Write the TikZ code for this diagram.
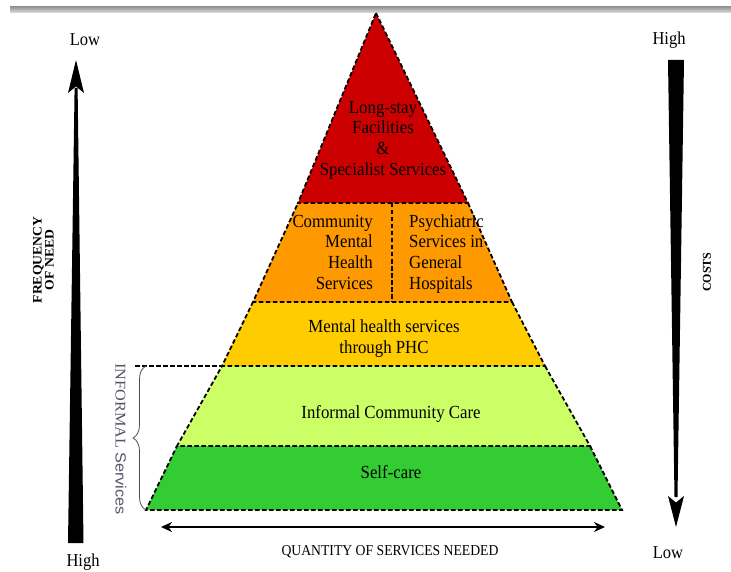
\documentclass[tikz,border=0pt]{standalone}
\usepackage{fontspec}
\setmainfont{Liberation Serif}
\newfontfamily\sansfam{Liberation Sans}
\usepackage{graphicx}
\usetikzlibrary{arrows.meta,decorations.pathreplacing}

\definecolor{tierred}{HTML}{CC0000}
\definecolor{tierorange}{HTML}{FF9900}
\definecolor{tieryellow}{HTML}{FFCC00}
\definecolor{tierlime}{HTML}{CCFF66}
\definecolor{tiergreen}{HTML}{33CC33}
\definecolor{notegrey}{RGB}{82,86,100}

% slightly tall lettering, and lettering stretched along its own length
\newcommand{\tall}[1]{\scalebox{1}[1.1]{#1}}
\newcommand{\stretchx}[2]{\scalebox{#1}[1]{#2}}

\begin{document}
\begin{tikzpicture}[x=1pt,y=-1pt,
  tierline/.style={line width=1.8pt, dash pattern=on 4.5pt off 2.5pt, line cap=butt},
  tiertext/.style={inner sep=0pt, font=\fontsize{16.8}{18.8}\selectfont},
  endlabel/.style={inner sep=0pt, font=\fontsize{16.5}{18}\selectfont},
  axislabel/.style={inner sep=0pt, font=\bfseries\fontsize{13}{11}\selectfont},
  wedge/.style={fill=black, draw=none}
]
\useasboundingbox (0,0) rectangle (731,572);

% thin grey rule along the top
\shade[top color=gray!85, bottom color=gray!30] (10,6.5) rectangle (731,12.5);

% pyramid corner points
\coordinate (apex) at (376,13);
\coordinate (r1) at (298,203);  \coordinate (r2) at (468,203);
\coordinate (o1) at (253,302);  \coordinate (o2) at (512,302);
\coordinate (y1) at (222,366);  \coordinate (y2) at (545,366);
\coordinate (g1) at (177,446);  \coordinate (g2) at (590,446);
\coordinate (b1) at (146,510);  \coordinate (b2) at (622,510);
\coordinate (dtop) at (392,203); \coordinate (dbot) at (392,302);
\coordinate (inf) at (135,366);

% tier fills
\fill[tierred]    (apex) -- (r2) -- (r1) -- cycle;
\fill[tierorange] (r1) -- (r2) -- (o2) -- (o1) -- cycle;
\fill[tieryellow] (o1) -- (o2) -- (y2) -- (y1) -- cycle;
\fill[tierlime]   (y1) -- (y2) -- (g2) -- (g1) -- cycle;
\fill[tiergreen]  (g1) -- (g2) -- (b2) -- (b1) -- cycle;

% dashed tier outlines
\draw[tierline] (apex) -- (r2) -- (r1) -- cycle;
\draw[tierline] (r2) -- (o2) -- (o1) -- (r1);
\draw[tierline] (o2) -- (y2) -- (y1) -- (o1);
\draw[tierline] (y2) -- (g2) -- (g1) -- (y1);
\draw[tierline] (g2) -- (b2) -- (b1) -- (g1);
\draw[tierline] (dtop) -- (dbot);
\draw[tierline] (inf) -- (y1);

% tier texts
\node[tiertext] (tLong) at (383,140) {\tall{\begin{tabular}{@{}c@{}}Long-stay\\Facilities\\\&\\Specialist Services\end{tabular}}};
\node[tiertext, anchor=east] (tComm) at (373,254) {\tall{\begin{tabular}{@{}r@{}}Community\\Mental\\Health\\Services\end{tabular}}};
\node[tiertext, anchor=west] (tPsy) at (409,254) {\tall{\begin{tabular}{@{}l@{}}Psychiatric\\Services in\\General\\Hospitals\end{tabular}}};
\node[tiertext] (tPhc) at (384,339) {\tall{\begin{tabular}{@{}c@{}}Mental health services\\through PHC\end{tabular}}};
\node[tiertext] (tInf) at (391,414) {\tall{Informal Community Care}};
\node[tiertext] (tSelf) at (391,472) {\tall{Self-care}};

% brace for the informal tiers
\coordinate (bb) at (146,510);
\coordinate (bt) at (146,366);
\draw[decorate, decoration={brace, amplitude=13pt, aspect=0.5},
      draw=gray!60!black, line width=0.8pt] (bb) -- (bt);
\node[inner sep=0pt, rotate=-90, text=notegrey, font=\fontsize{14.8}{16}\selectfont]
  (tInformal) at (121,439) {\stretchx{1.1}{INFORMAL \sansfam Services}};

% frequency of need: upward tapering arrow
\fill[wedge] (68,543) -- (83.5,543) -- (77.6,88) -- (74.6,88) -- cycle;
\fill[wedge] (76,60) -- (84,93) -- (76,86.5) -- (68,93) -- cycle;
\node[endlabel] (fLow) at (85,40) {\tall{Low}};
\node[endlabel] (fHigh) at (83,562) {\tall{High}};
\node[axislabel, rotate=90] (fLab) at (45,260)
  {\stretchx{1.05}{\begin{tabular}{@{}c@{}}FREQUENCY\\OF NEED\end{tabular}}};

% costs: downward tapering arrow
\fill[wedge] (668,60) -- (684,60) -- (677.5,497) -- (674.5,497) -- cycle;
\fill[wedge] (676,527) -- (684,496) -- (676,502.5) -- (668,496) -- cycle;
\node[endlabel] (cHigh) at (669,40) {\tall{High}};
\node[endlabel] (cLow) at (668,553) {\tall{Low}};
\node[axislabel, rotate=90, font=\bfseries\fontsize{12}{12}\selectfont] (cLab) at (707,272)
  {COSTS};

% quantity of services: double-headed arrow
\coordinate (qa) at (161,527);
\coordinate (qb) at (605,527);
\draw[line width=1.8pt, {Stealth[length=11pt,width=10pt]}-{Stealth[length=11pt,width=10pt]}] (qa) -- (qb);
\node[inner sep=0pt, font=\fontsize{13.7}{15}\selectfont] (qLab) at (390,552)
  {\tall{QUANTITY OF SERVICES NEEDED}};
\end{tikzpicture}
\end{document}
